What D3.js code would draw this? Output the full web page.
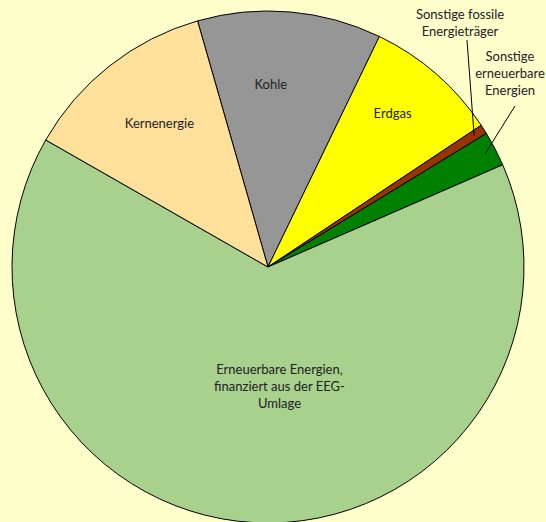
<!DOCTYPE html>
<html>
<head>
<meta charset="utf-8">
<script src="https://cdn.jsdelivr.net/npm/d3@7"></script>
<style>
  html, body { margin: 0; padding: 0; background: #FFFFCC; overflow: hidden; }
  svg { display: block; font-family: Lato, "DejaVu Sans", sans-serif; }
</style>
</head>
<body>
<div id="chart"></div>
<script>
// Anteile am Strommix (Prozent), im Uhrzeigersinn ab "Kohle"
var categories = ['Kohle', 'Erdgas', 'Sonstige fossile Energieträger', 'Sonstige erneuerbare Energien',
                  'Erneuerbare Energien, finanziert aus der EEG-Umlage', 'Kernenergie'];
var shares = [11.6, 8.5, 0.6, 2.2, 64.8, 12.3];
var colors = ['#969696', '#FFFF00', '#993300', '#008000', '#A9D18E', '#FFE19B'];
// Beschriftungen (Zeilen)
var labelLines = [
  ['Kohle'],
  ['Erdgas'],
  ['Sonstige  fossile', 'Energieträger'],
  ['Sonstige', 'erneuerbare', 'Energien'],
  ['Erneuerbare Energien,', 'finanziert aus der EEG-', 'Umlage'],
  ['Kernenergie']
];

var w = 546; var h = 522;
var cx = 268, cy = 267, r = 256;
var startDeg = -15.97;

var data = categories.map(function(c, i) {
  return {name: c, value: shares[i], color: colors[i], lines: labelLines[i]};
});

var svg = d3.select('#chart')
  .append('svg')
  .attr('width', w)
  .attr('height', h);

svg.append('rect').attr('width', w).attr('height', h).attr('fill', '#FFFFCC');

var pie = d3.pie()
  .sort(null)
  .startAngle(startDeg * Math.PI / 180)
  .endAngle(startDeg * Math.PI / 180 + 2 * Math.PI)
  .value(function(d) { return d.value; });

var arc = d3.arc().innerRadius(0).outerRadius(r);

var g = svg.append('g').attr('transform', 'translate(' + cx + ',' + cy + ')');

var arcs = pie(data);

g.selectAll('path')
  .data(arcs)
  .enter()
  .append('path')
  .attr('d', arc)
  .attr('fill', function(d) { return d.data.color; })
  .attr('stroke', '#000')
  .attr('stroke-width', 1)
  .attr('stroke-linejoin', 'round');

// innere Beschriftungen
var inside = {0: {f: 0.72, dx: -13, dy: 2}, 1: {f: 0.77, dx: -5, dy: -4},
              4: {f: 0.47, dx: 18, dy: 0}, 5: {f: 0.70, dx: 2, dy: -2}};
var lh = 17;
var fs = 13;

arcs.forEach(function(d, i) {
  if (!inside[i]) return;
  var o = inside[i];
  var la = d3.arc().innerRadius(r * o.f).outerRadius(r * o.f);
  var c = la.centroid(d);
  var n = d.data.lines.length;
  var t = g.append('text')
    .attr('text-anchor', 'middle')
    .attr('font-size', fs)
    .attr('fill', '#222');
  d.data.lines.forEach(function(line, k) {
    t.append('tspan')
      .attr('x', c[0] + o.dx)
      .attr('y', c[1] + o.dy + (k - (n - 1) / 2) * lh + 4)
      .text(line);
  });
});

// äußere Beschriftungen mit Führungslinien (Position relativ zum Mittelpunkt)
var outside = {2: {x: 192, y: -252, lx: 199, ly: -227},
               3: {x: 242, y: -210, lx: 247, ly: -161}};

arcs.forEach(function(d, i) {
  if (!outside[i]) return;
  var o = outside[i];
  var pa = d3.arc().innerRadius(r * 0.955).outerRadius(r * 0.955);
  var p = pa.centroid(d);
  g.append('line')
    .attr('x1', o.lx).attr('y1', o.ly)
    .attr('x2', p[0]).attr('y2', p[1])
    .attr('stroke', '#000')
    .attr('stroke-width', 1);
  var t = g.append('text')
    .attr('text-anchor', 'middle')
    .attr('font-size', fs)
    .attr('fill', '#222');
  d.data.lines.forEach(function(line, k) {
    t.append('tspan')
      .attr('x', o.x)
      .attr('y', o.y + k * lh + 4)
      .text(line);
  });
});
</script>
</body>
</html>
